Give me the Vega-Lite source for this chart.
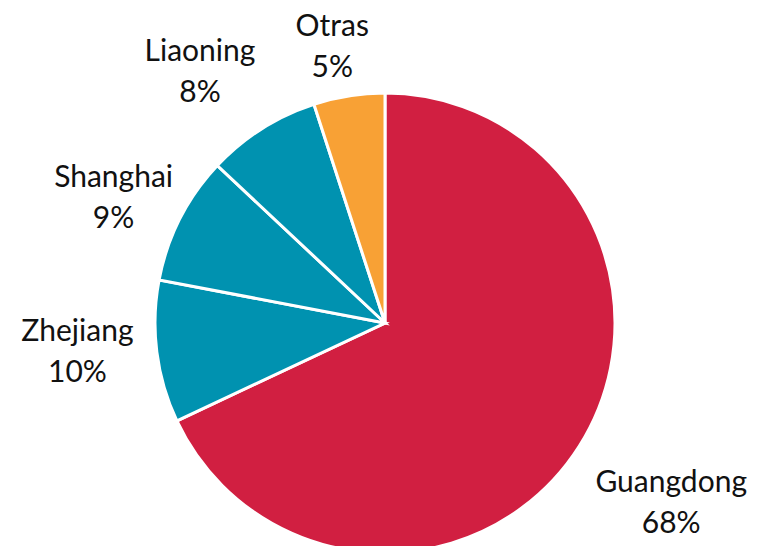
{
  "$schema": "https://vega.github.io/schema/vega-lite/v6.json",
  "autosize": {"type": "none"},
  "width": 770,
  "height": 646,
  "padding": 0,
  "background": "white",
  "config": {"view": {"stroke": null}, "text": {"font": "Lato", "fontSize": 30, "lineBreak": "\n", "lineHeight": 41, "align": "center", "baseline": "middle", "color": "#111111"}},
  "data": {
    "values": [
      {"region": "Guangdong", "value": 68, "orden": 1, "label": "Guangdong\n68%"},
      {"region": "Zhejiang", "value": 10, "orden": 2, "label": "Zhejiang\n10%"},
      {"region": "Shanghai", "value": 9, "orden": 3, "label": "Shanghai\n9%"},
      {"region": "Liaoning", "value": 8, "orden": 4, "label": "Liaoning\n8%"},
      {"region": "Otras", "value": 5, "orden": 5, "label": "Otras\n5%"}
    ]
  },
  "encoding": {
    "theta": {"field": "value", "type": "quantitative", "stack": true},
    "order": {"field": "orden", "type": "quantitative"}
  },
  "layer": [
    {
      "mark": {"type": "arc", "outerRadius": 230, "stroke": "white", "strokeWidth": 3},
      "encoding": {
        "color": {
          "field": "region",
          "type": "nominal",
          "scale": {
            "domain": ["Guangdong", "Zhejiang", "Shanghai", "Liaoning", "Otras"],
            "range": ["#D11F41", "#0092B0", "#0092B0", "#0092B0", "#F8A135"]
          },
          "legend": null
        }
      }
    },
    {
      "mark": {"type": "text", "radius": 339, "dy": -22},
      "encoding": {"text": {"field": "label", "condition": {"test": "datum.region !== 'Guangdong'", "value": ""}}}
    },
    {
      "mark": {"type": "text", "radius": 308, "dy": -30, "dx": -2},
      "encoding": {"text": {"field": "label", "condition": {"test": "datum.region !== 'Zhejiang'", "value": ""}}}
    },
    {
      "mark": {"type": "text", "radius": 308, "dy": -5, "dx": 3},
      "encoding": {"text": {"field": "label", "condition": {"test": "datum.region !== 'Shanghai'", "value": ""}}}
    },
    {
      "mark": {"type": "text", "radius": 308, "dy": -11, "dx": -20},
      "encoding": {"text": {"field": "label", "condition": {"test": "datum.region !== 'Liaoning'", "value": ""}}}
    },
    {
      "mark": {"type": "text", "radius": 286, "dy": -14, "dx": -8},
      "encoding": {"text": {"field": "label", "condition": {"test": "datum.region !== 'Otras'", "value": ""}}}
    }
  ]
}
